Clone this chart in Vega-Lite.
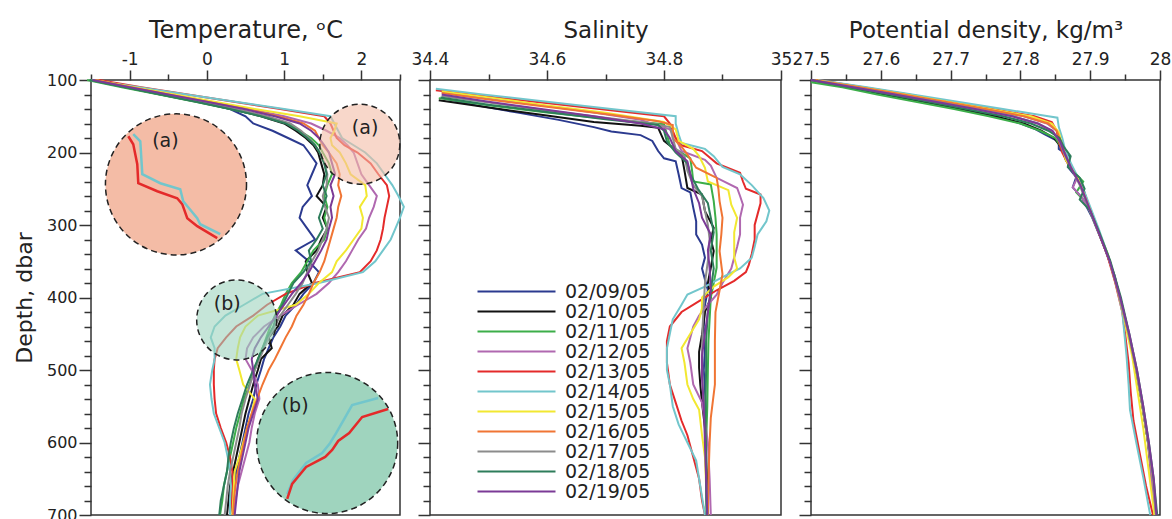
{
"$schema": "https://vega.github.io/schema/vega-lite/v6.json",
"background": "white",
"padding": {"left": 12, "top": 17, "right": 5, "bottom": 5},
"config": {"font": "DejaVu Sans", "view": {"stroke": "#333", "strokeWidth": 1.5},
 "axis": {"grid": false, "domain": false, "tickColor": "#333", "tickWidth": 1.5, "labelColor": "#222", "titleColor": "#222", "titleFontWeight": "normal", "labelFlush": false, "labelOverlap": false, "labelFont": "DejaVu Sans", "titleFont": "DejaVu Sans"}},
"spacing": 30,
"bounds": "flush",
"resolve": {"scale": {"x": "independent", "y": "independent", "color": "independent", "fill": "independent"}, "legend": {"color": "independent"}},
"datasets": {
"T": [
{"d":"02/09/05","z":100,"v":-1.45},{"d":"02/09/05","z":110,"v":-1.0},{"d":"02/09/05","z":120,"v":-0.55},{"d":"02/09/05","z":130,"v":-0.1},{"d":"02/09/05","z":140,"v":0.3},{"d":"02/09/05","z":150,"v":0.5},{"d":"02/09/05","z":160,"v":0.6},{"d":"02/09/05","z":170,"v":0.85},{"d":"02/09/05","z":180,"v":1.05},{"d":"02/09/05","z":190,"v":1.25},{"d":"02/09/05","z":200,"v":1.32},{"d":"02/09/05","z":215,"v":1.42},{"d":"02/09/05","z":230,"v":1.36},{"d":"02/09/05","z":245,"v":1.3},{"d":"02/09/05","z":260,"v":1.36},{"d":"02/09/05","z":275,"v":1.24},{"d":"02/09/05","z":290,"v":1.2},{"d":"02/09/05","z":305,"v":1.3},{"d":"02/09/05","z":320,"v":1.4},{"d":"02/09/05","z":335,"v":1.15},{"d":"02/09/05","z":350,"v":1.32},{"d":"02/09/05","z":365,"v":1.45},{"d":"02/09/05","z":380,"v":1.38},{"d":"02/09/05","z":395,"v":1.25},{"d":"02/09/05","z":410,"v":1.15},{"d":"02/09/05","z":425,"v":1.02},{"d":"02/09/05","z":440,"v":0.95},{"d":"02/09/05","z":455,"v":0.86},{"d":"02/09/05","z":470,"v":0.8},{"d":"02/09/05","z":485,"v":0.74},{"d":"02/09/05","z":500,"v":0.7},{"d":"02/09/05","z":520,"v":0.64},{"d":"02/09/05","z":540,"v":0.6},{"d":"02/09/05","z":560,"v":0.54},{"d":"02/09/05","z":580,"v":0.5},{"d":"02/09/05","z":600,"v":0.46},{"d":"02/09/05","z":620,"v":0.42},{"d":"02/09/05","z":640,"v":0.38},{"d":"02/09/05","z":660,"v":0.35},{"d":"02/09/05","z":680,"v":0.32},{"d":"02/09/05","z":700,"v":0.3},
{"d":"02/10/05","z":100,"v":-1.5},{"d":"02/10/05","z":110,"v":-1.05},{"d":"02/10/05","z":120,"v":-0.6},{"d":"02/10/05","z":130,"v":-0.12},{"d":"02/10/05","z":140,"v":0.32},{"d":"02/10/05","z":150,"v":0.7},{"d":"02/10/05","z":160,"v":1.0},{"d":"02/10/05","z":170,"v":1.15},{"d":"02/10/05","z":180,"v":1.28},{"d":"02/10/05","z":190,"v":1.38},{"d":"02/10/05","z":200,"v":1.44},{"d":"02/10/05","z":215,"v":1.48},{"d":"02/10/05","z":230,"v":1.52},{"d":"02/10/05","z":245,"v":1.5},{"d":"02/10/05","z":260,"v":1.42},{"d":"02/10/05","z":275,"v":1.55},{"d":"02/10/05","z":290,"v":1.5},{"d":"02/10/05","z":305,"v":1.56},{"d":"02/10/05","z":320,"v":1.48},{"d":"02/10/05","z":335,"v":1.42},{"d":"02/10/05","z":350,"v":1.28},{"d":"02/10/05","z":365,"v":1.3},{"d":"02/10/05","z":380,"v":1.36},{"d":"02/10/05","z":395,"v":1.2},{"d":"02/10/05","z":410,"v":1.12},{"d":"02/10/05","z":425,"v":0.98},{"d":"02/10/05","z":440,"v":0.92},{"d":"02/10/05","z":455,"v":0.8},{"d":"02/10/05","z":470,"v":0.84},{"d":"02/10/05","z":485,"v":0.7},{"d":"02/10/05","z":500,"v":0.66},{"d":"02/10/05","z":520,"v":0.6},{"d":"02/10/05","z":540,"v":0.55},{"d":"02/10/05","z":560,"v":0.5},{"d":"02/10/05","z":580,"v":0.46},{"d":"02/10/05","z":600,"v":0.42},{"d":"02/10/05","z":620,"v":0.38},{"d":"02/10/05","z":640,"v":0.34},{"d":"02/10/05","z":660,"v":0.3},{"d":"02/10/05","z":680,"v":0.28},{"d":"02/10/05","z":700,"v":0.26},
{"d":"02/11/05","z":100,"v":-1.55},{"d":"02/11/05","z":110,"v":-1.1},{"d":"02/11/05","z":120,"v":-0.62},{"d":"02/11/05","z":130,"v":-0.15},{"d":"02/11/05","z":140,"v":0.3},{"d":"02/11/05","z":150,"v":0.72},{"d":"02/11/05","z":160,"v":1.05},{"d":"02/11/05","z":170,"v":1.2},{"d":"02/11/05","z":180,"v":1.35},{"d":"02/11/05","z":190,"v":1.45},{"d":"02/11/05","z":200,"v":1.5},{"d":"02/11/05","z":215,"v":1.58},{"d":"02/11/05","z":230,"v":1.62},{"d":"02/11/05","z":245,"v":1.56},{"d":"02/11/05","z":260,"v":1.52},{"d":"02/11/05","z":275,"v":1.56},{"d":"02/11/05","z":290,"v":1.52},{"d":"02/11/05","z":305,"v":1.56},{"d":"02/11/05","z":320,"v":1.52},{"d":"02/11/05","z":335,"v":1.38},{"d":"02/11/05","z":350,"v":1.3},{"d":"02/11/05","z":365,"v":1.22},{"d":"02/11/05","z":380,"v":1.1},{"d":"02/11/05","z":395,"v":1.02},{"d":"02/11/05","z":410,"v":0.96},{"d":"02/11/05","z":425,"v":0.88},{"d":"02/11/05","z":440,"v":0.82},{"d":"02/11/05","z":455,"v":0.77},{"d":"02/11/05","z":470,"v":0.72},{"d":"02/11/05","z":485,"v":0.66},{"d":"02/11/05","z":500,"v":0.62},{"d":"02/11/05","z":520,"v":0.55},{"d":"02/11/05","z":540,"v":0.48},{"d":"02/11/05","z":560,"v":0.43},{"d":"02/11/05","z":580,"v":0.38},{"d":"02/11/05","z":600,"v":0.34},{"d":"02/11/05","z":620,"v":0.3},{"d":"02/11/05","z":640,"v":0.26},{"d":"02/11/05","z":660,"v":0.22},{"d":"02/11/05","z":680,"v":0.2},{"d":"02/11/05","z":700,"v":0.17},
{"d":"02/12/05","z":100,"v":-1.45},{"d":"02/12/05","z":110,"v":-0.95},{"d":"02/12/05","z":120,"v":-0.45},{"d":"02/12/05","z":130,"v":0.05},{"d":"02/12/05","z":140,"v":0.55},{"d":"02/12/05","z":150,"v":1.0},{"d":"02/12/05","z":160,"v":1.35},{"d":"02/12/05","z":170,"v":1.55},{"d":"02/12/05","z":180,"v":1.72},{"d":"02/12/05","z":190,"v":1.82},{"d":"02/12/05","z":200,"v":1.9},{"d":"02/12/05","z":215,"v":1.95},{"d":"02/12/05","z":230,"v":2.0},{"d":"02/12/05","z":245,"v":2.1},{"d":"02/12/05","z":260,"v":2.2},{"d":"02/12/05","z":275,"v":2.16},{"d":"02/12/05","z":290,"v":2.1},{"d":"02/12/05","z":305,"v":2.06},{"d":"02/12/05","z":320,"v":1.96},{"d":"02/12/05","z":335,"v":1.88},{"d":"02/12/05","z":350,"v":1.8},{"d":"02/12/05","z":365,"v":1.7},{"d":"02/12/05","z":380,"v":1.58},{"d":"02/12/05","z":395,"v":1.42},{"d":"02/12/05","z":410,"v":1.18},{"d":"02/12/05","z":425,"v":0.95},{"d":"02/12/05","z":440,"v":0.74},{"d":"02/12/05","z":455,"v":0.6},{"d":"02/12/05","z":470,"v":0.52},{"d":"02/12/05","z":485,"v":0.5},{"d":"02/12/05","z":500,"v":0.58},{"d":"02/12/05","z":520,"v":0.66},{"d":"02/12/05","z":540,"v":0.68},{"d":"02/12/05","z":560,"v":0.62},{"d":"02/12/05","z":580,"v":0.58},{"d":"02/12/05","z":600,"v":0.55},{"d":"02/12/05","z":620,"v":0.5},{"d":"02/12/05","z":640,"v":0.45},{"d":"02/12/05","z":660,"v":0.4},{"d":"02/12/05","z":680,"v":0.37},{"d":"02/12/05","z":700,"v":0.34},
{"d":"02/13/05","z":100,"v":-1.4},{"d":"02/13/05","z":110,"v":-0.85},{"d":"02/13/05","z":120,"v":-0.25},{"d":"02/13/05","z":130,"v":0.35},{"d":"02/13/05","z":140,"v":0.95},{"d":"02/13/05","z":150,"v":1.52},{"d":"02/13/05","z":160,"v":1.6},{"d":"02/13/05","z":170,"v":1.64},{"d":"02/13/05","z":180,"v":1.68},{"d":"02/13/05","z":190,"v":1.78},{"d":"02/13/05","z":200,"v":1.95},{"d":"02/13/05","z":215,"v":2.12},{"d":"02/13/05","z":230,"v":2.22},{"d":"02/13/05","z":245,"v":2.33},{"d":"02/13/05","z":260,"v":2.36},{"d":"02/13/05","z":275,"v":2.33},{"d":"02/13/05","z":290,"v":2.3},{"d":"02/13/05","z":305,"v":2.28},{"d":"02/13/05","z":320,"v":2.25},{"d":"02/13/05","z":335,"v":2.2},{"d":"02/13/05","z":350,"v":2.12},{"d":"02/13/05","z":365,"v":1.98},{"d":"02/13/05","z":380,"v":1.4},{"d":"02/13/05","z":395,"v":1.02},{"d":"02/13/05","z":410,"v":0.78},{"d":"02/13/05","z":425,"v":0.6},{"d":"02/13/05","z":440,"v":0.38},{"d":"02/13/05","z":455,"v":0.25},{"d":"02/13/05","z":470,"v":0.14},{"d":"02/13/05","z":485,"v":0.1},{"d":"02/13/05","z":500,"v":0.09},{"d":"02/13/05","z":520,"v":0.09},{"d":"02/13/05","z":540,"v":0.1},{"d":"02/13/05","z":560,"v":0.12},{"d":"02/13/05","z":580,"v":0.18},{"d":"02/13/05","z":600,"v":0.25},{"d":"02/13/05","z":620,"v":0.3},{"d":"02/13/05","z":640,"v":0.33},{"d":"02/13/05","z":660,"v":0.33},{"d":"02/13/05","z":680,"v":0.32},{"d":"02/13/05","z":700,"v":0.3},
{"d":"02/14/05","z":100,"v":-1.5},{"d":"02/14/05","z":110,"v":-0.88},{"d":"02/14/05","z":120,"v":-0.26},{"d":"02/14/05","z":130,"v":0.37},{"d":"02/14/05","z":140,"v":1.0},{"d":"02/14/05","z":150,"v":1.6},{"d":"02/14/05","z":160,"v":1.65},{"d":"02/14/05","z":170,"v":1.7},{"d":"02/14/05","z":180,"v":1.75},{"d":"02/14/05","z":190,"v":1.9},{"d":"02/14/05","z":200,"v":2.05},{"d":"02/14/05","z":215,"v":2.2},{"d":"02/14/05","z":230,"v":2.3},{"d":"02/14/05","z":245,"v":2.4},{"d":"02/14/05","z":260,"v":2.48},{"d":"02/14/05","z":275,"v":2.55},{"d":"02/14/05","z":290,"v":2.5},{"d":"02/14/05","z":305,"v":2.44},{"d":"02/14/05","z":320,"v":2.38},{"d":"02/14/05","z":335,"v":2.28},{"d":"02/14/05","z":350,"v":2.18},{"d":"02/14/05","z":365,"v":2.02},{"d":"02/14/05","z":380,"v":1.45},{"d":"02/14/05","z":395,"v":0.72},{"d":"02/14/05","z":410,"v":0.48},{"d":"02/14/05","z":425,"v":0.24},{"d":"02/14/05","z":440,"v":0.1},{"d":"02/14/05","z":455,"v":0.05},{"d":"02/14/05","z":470,"v":0.1},{"d":"02/14/05","z":485,"v":0.1},{"d":"02/14/05","z":500,"v":0.07},{"d":"02/14/05","z":520,"v":0.04},{"d":"02/14/05","z":540,"v":0.06},{"d":"02/14/05","z":560,"v":0.09},{"d":"02/14/05","z":580,"v":0.16},{"d":"02/14/05","z":600,"v":0.23},{"d":"02/14/05","z":620,"v":0.27},{"d":"02/14/05","z":640,"v":0.3},{"d":"02/14/05","z":660,"v":0.31},{"d":"02/14/05","z":680,"v":0.3},{"d":"02/14/05","z":700,"v":0.3},
{"d":"02/15/05","z":100,"v":-1.45},{"d":"02/15/05","z":110,"v":-0.95},{"d":"02/15/05","z":120,"v":-0.42},{"d":"02/15/05","z":130,"v":0.1},{"d":"02/15/05","z":140,"v":0.62},{"d":"02/15/05","z":150,"v":1.2},{"d":"02/15/05","z":160,"v":1.68},{"d":"02/15/05","z":170,"v":1.65},{"d":"02/15/05","z":180,"v":1.6},{"d":"02/15/05","z":190,"v":1.62},{"d":"02/15/05","z":200,"v":1.72},{"d":"02/15/05","z":215,"v":1.8},{"d":"02/15/05","z":230,"v":1.86},{"d":"02/15/05","z":245,"v":2.05},{"d":"02/15/05","z":260,"v":2.07},{"d":"02/15/05","z":275,"v":1.98},{"d":"02/15/05","z":290,"v":2.02},{"d":"02/15/05","z":305,"v":2.0},{"d":"02/15/05","z":320,"v":1.9},{"d":"02/15/05","z":335,"v":1.8},{"d":"02/15/05","z":350,"v":1.68},{"d":"02/15/05","z":365,"v":1.62},{"d":"02/15/05","z":380,"v":1.45},{"d":"02/15/05","z":395,"v":1.32},{"d":"02/15/05","z":410,"v":1.15},{"d":"02/15/05","z":425,"v":0.66},{"d":"02/15/05","z":440,"v":0.5},{"d":"02/15/05","z":455,"v":0.43},{"d":"02/15/05","z":470,"v":0.4},{"d":"02/15/05","z":485,"v":0.38},{"d":"02/15/05","z":500,"v":0.42},{"d":"02/15/05","z":520,"v":0.47},{"d":"02/15/05","z":540,"v":0.62},{"d":"02/15/05","z":560,"v":0.58},{"d":"02/15/05","z":580,"v":0.52},{"d":"02/15/05","z":600,"v":0.47},{"d":"02/15/05","z":620,"v":0.42},{"d":"02/15/05","z":640,"v":0.36},{"d":"02/15/05","z":660,"v":0.35},{"d":"02/15/05","z":680,"v":0.34},{"d":"02/15/05","z":700,"v":0.33},
{"d":"02/16/05","z":100,"v":-1.45},{"d":"02/16/05","z":110,"v":-0.98},{"d":"02/16/05","z":120,"v":-0.5},{"d":"02/16/05","z":130,"v":0.0},{"d":"02/16/05","z":140,"v":0.5},{"d":"02/16/05","z":150,"v":0.92},{"d":"02/16/05","z":160,"v":1.25},{"d":"02/16/05","z":170,"v":1.4},{"d":"02/16/05","z":180,"v":1.45},{"d":"02/16/05","z":190,"v":1.5},{"d":"02/16/05","z":200,"v":1.58},{"d":"02/16/05","z":215,"v":1.68},{"d":"02/16/05","z":230,"v":1.72},{"d":"02/16/05","z":245,"v":1.7},{"d":"02/16/05","z":260,"v":1.74},{"d":"02/16/05","z":275,"v":1.7},{"d":"02/16/05","z":290,"v":1.68},{"d":"02/16/05","z":305,"v":1.64},{"d":"02/16/05","z":320,"v":1.6},{"d":"02/16/05","z":335,"v":1.56},{"d":"02/16/05","z":350,"v":1.52},{"d":"02/16/05","z":365,"v":1.46},{"d":"02/16/05","z":380,"v":1.38},{"d":"02/16/05","z":395,"v":1.32},{"d":"02/16/05","z":410,"v":1.25},{"d":"02/16/05","z":425,"v":1.16},{"d":"02/16/05","z":440,"v":1.1},{"d":"02/16/05","z":455,"v":1.02},{"d":"02/16/05","z":470,"v":0.95},{"d":"02/16/05","z":485,"v":0.88},{"d":"02/16/05","z":500,"v":0.8},{"d":"02/16/05","z":520,"v":0.72},{"d":"02/16/05","z":540,"v":0.65},{"d":"02/16/05","z":560,"v":0.58},{"d":"02/16/05","z":580,"v":0.52},{"d":"02/16/05","z":600,"v":0.48},{"d":"02/16/05","z":620,"v":0.44},{"d":"02/16/05","z":640,"v":0.4},{"d":"02/16/05","z":660,"v":0.37},{"d":"02/16/05","z":680,"v":0.35},{"d":"02/16/05","z":700,"v":0.34},
{"d":"02/17/05","z":100,"v":-1.5},{"d":"02/17/05","z":110,"v":-1.02},{"d":"02/17/05","z":120,"v":-0.55},{"d":"02/17/05","z":130,"v":-0.08},{"d":"02/17/05","z":140,"v":0.38},{"d":"02/17/05","z":150,"v":0.78},{"d":"02/17/05","z":160,"v":1.08},{"d":"02/17/05","z":170,"v":1.22},{"d":"02/17/05","z":180,"v":1.32},{"d":"02/17/05","z":190,"v":1.4},{"d":"02/17/05","z":200,"v":1.46},{"d":"02/17/05","z":215,"v":1.52},{"d":"02/17/05","z":230,"v":1.56},{"d":"02/17/05","z":245,"v":1.55},{"d":"02/17/05","z":260,"v":1.5},{"d":"02/17/05","z":275,"v":1.53},{"d":"02/17/05","z":290,"v":1.58},{"d":"02/17/05","z":305,"v":1.55},{"d":"02/17/05","z":320,"v":1.5},{"d":"02/17/05","z":335,"v":1.44},{"d":"02/17/05","z":350,"v":1.36},{"d":"02/17/05","z":365,"v":1.3},{"d":"02/17/05","z":380,"v":1.24},{"d":"02/17/05","z":395,"v":1.15},{"d":"02/17/05","z":410,"v":1.05},{"d":"02/17/05","z":425,"v":0.95},{"d":"02/17/05","z":440,"v":0.88},{"d":"02/17/05","z":455,"v":0.8},{"d":"02/17/05","z":470,"v":0.74},{"d":"02/17/05","z":485,"v":0.68},{"d":"02/17/05","z":500,"v":0.62},{"d":"02/17/05","z":520,"v":0.56},{"d":"02/17/05","z":540,"v":0.5},{"d":"02/17/05","z":560,"v":0.45},{"d":"02/17/05","z":580,"v":0.42},{"d":"02/17/05","z":600,"v":0.38},{"d":"02/17/05","z":620,"v":0.34},{"d":"02/17/05","z":640,"v":0.3},{"d":"02/17/05","z":660,"v":0.27},{"d":"02/17/05","z":680,"v":0.25},{"d":"02/17/05","z":700,"v":0.23},
{"d":"02/18/05","z":100,"v":-1.52},{"d":"02/18/05","z":110,"v":-1.06},{"d":"02/18/05","z":120,"v":-0.6},{"d":"02/18/05","z":130,"v":-0.14},{"d":"02/18/05","z":140,"v":0.3},{"d":"02/18/05","z":150,"v":0.7},{"d":"02/18/05","z":160,"v":1.02},{"d":"02/18/05","z":170,"v":1.18},{"d":"02/18/05","z":180,"v":1.3},{"d":"02/18/05","z":190,"v":1.4},{"d":"02/18/05","z":200,"v":1.46},{"d":"02/18/05","z":215,"v":1.52},{"d":"02/18/05","z":230,"v":1.55},{"d":"02/18/05","z":245,"v":1.5},{"d":"02/18/05","z":260,"v":1.55},{"d":"02/18/05","z":275,"v":1.5},{"d":"02/18/05","z":290,"v":1.45},{"d":"02/18/05","z":305,"v":1.5},{"d":"02/18/05","z":320,"v":1.42},{"d":"02/18/05","z":335,"v":1.32},{"d":"02/18/05","z":350,"v":1.35},{"d":"02/18/05","z":365,"v":1.25},{"d":"02/18/05","z":380,"v":1.12},{"d":"02/18/05","z":395,"v":1.05},{"d":"02/18/05","z":410,"v":0.98},{"d":"02/18/05","z":425,"v":0.9},{"d":"02/18/05","z":440,"v":0.86},{"d":"02/18/05","z":455,"v":0.78},{"d":"02/18/05","z":470,"v":0.72},{"d":"02/18/05","z":485,"v":0.66},{"d":"02/18/05","z":500,"v":0.6},{"d":"02/18/05","z":520,"v":0.52},{"d":"02/18/05","z":540,"v":0.46},{"d":"02/18/05","z":560,"v":0.4},{"d":"02/18/05","z":580,"v":0.35},{"d":"02/18/05","z":600,"v":0.31},{"d":"02/18/05","z":620,"v":0.28},{"d":"02/18/05","z":640,"v":0.26},{"d":"02/18/05","z":660,"v":0.22},{"d":"02/18/05","z":680,"v":0.18},{"d":"02/18/05","z":700,"v":0.16},
{"d":"02/19/05","z":100,"v":-1.48},{"d":"02/19/05","z":110,"v":-1.0},{"d":"02/19/05","z":120,"v":-0.5},{"d":"02/19/05","z":130,"v":0.0},{"d":"02/19/05","z":140,"v":0.48},{"d":"02/19/05","z":150,"v":0.88},{"d":"02/19/05","z":160,"v":1.2},{"d":"02/19/05","z":170,"v":1.35},{"d":"02/19/05","z":180,"v":1.45},{"d":"02/19/05","z":190,"v":1.52},{"d":"02/19/05","z":200,"v":1.58},{"d":"02/19/05","z":215,"v":1.62},{"d":"02/19/05","z":230,"v":1.66},{"d":"02/19/05","z":245,"v":1.6},{"d":"02/19/05","z":260,"v":1.64},{"d":"02/19/05","z":275,"v":1.6},{"d":"02/19/05","z":290,"v":1.62},{"d":"02/19/05","z":305,"v":1.58},{"d":"02/19/05","z":320,"v":1.55},{"d":"02/19/05","z":335,"v":1.48},{"d":"02/19/05","z":350,"v":1.4},{"d":"02/19/05","z":365,"v":1.32},{"d":"02/19/05","z":380,"v":1.22},{"d":"02/19/05","z":395,"v":1.1},{"d":"02/19/05","z":410,"v":1.0},{"d":"02/19/05","z":425,"v":0.9},{"d":"02/19/05","z":440,"v":0.8},{"d":"02/19/05","z":455,"v":0.7},{"d":"02/19/05","z":470,"v":0.62},{"d":"02/19/05","z":485,"v":0.58},{"d":"02/19/05","z":500,"v":0.6},{"d":"02/19/05","z":520,"v":0.62},{"d":"02/19/05","z":540,"v":0.66},{"d":"02/19/05","z":560,"v":0.6},{"d":"02/19/05","z":580,"v":0.54},{"d":"02/19/05","z":600,"v":0.5},{"d":"02/19/05","z":620,"v":0.46},{"d":"02/19/05","z":640,"v":0.42},{"d":"02/19/05","z":660,"v":0.4},{"d":"02/19/05","z":680,"v":0.38},{"d":"02/19/05","z":700,"v":0.36}
],
"S": [
{"d":"02/09/05","z":125,"v":34.42},{"d":"02/09/05","z":135,"v":34.48},{"d":"02/09/05","z":145,"v":34.55},{"d":"02/09/05","z":155,"v":34.62},{"d":"02/09/05","z":165,"v":34.68},{"d":"02/09/05","z":171,"v":34.71},{"d":"02/09/05","z":176,"v":34.76},{"d":"02/09/05","z":184,"v":34.78},{"d":"02/09/05","z":198,"v":34.79},{"d":"02/09/05","z":208,"v":34.8},{"d":"02/09/05","z":212,"v":34.82},{"d":"02/09/05","z":230,"v":34.825},{"d":"02/09/05","z":249,"v":34.83},{"d":"02/09/05","z":255,"v":34.845},{"d":"02/09/05","z":276,"v":34.85},{"d":"02/09/05","z":295,"v":34.855},{"d":"02/09/05","z":313,"v":34.855},{"d":"02/09/05","z":327,"v":34.865},{"d":"02/09/05","z":345,"v":34.87},{"d":"02/09/05","z":360,"v":34.865},{"d":"02/09/05","z":375,"v":34.87},{"d":"02/09/05","z":390,"v":34.875},{"d":"02/09/05","z":410,"v":34.87},{"d":"02/09/05","z":440,"v":34.868},{"d":"02/09/05","z":470,"v":34.87},{"d":"02/09/05","z":500,"v":34.868},{"d":"02/09/05","z":530,"v":34.87},{"d":"02/09/05","z":560,"v":34.872},{"d":"02/09/05","z":600,"v":34.87},{"d":"02/09/05","z":640,"v":34.872},{"d":"02/09/05","z":680,"v":34.873},{"d":"02/09/05","z":700,"v":34.874},
{"d":"02/10/05","z":128,"v":34.415},{"d":"02/10/05","z":138,"v":34.5},{"d":"02/10/05","z":148,"v":34.59},{"d":"02/10/05","z":158,"v":34.68},{"d":"02/10/05","z":163,"v":34.76},{"d":"02/10/05","z":166,"v":34.79},{"d":"02/10/05","z":184,"v":34.8},{"d":"02/10/05","z":203,"v":34.83},{"d":"02/10/05","z":225,"v":34.835},{"d":"02/10/05","z":249,"v":34.84},{"d":"02/10/05","z":258,"v":34.865},{"d":"02/10/05","z":281,"v":34.87},{"d":"02/10/05","z":304,"v":34.885},{"d":"02/10/05","z":320,"v":34.88},{"d":"02/10/05","z":336,"v":34.885},{"d":"02/10/05","z":359,"v":34.88},{"d":"02/10/05","z":380,"v":34.875},{"d":"02/10/05","z":400,"v":34.88},{"d":"02/10/05","z":420,"v":34.87},{"d":"02/10/05","z":451,"v":34.865},{"d":"02/10/05","z":475,"v":34.86},{"d":"02/10/05","z":497,"v":34.86},{"d":"02/10/05","z":520,"v":34.862},{"d":"02/10/05","z":545,"v":34.865},{"d":"02/10/05","z":580,"v":34.87},{"d":"02/10/05","z":620,"v":34.872},{"d":"02/10/05","z":660,"v":34.874},{"d":"02/10/05","z":700,"v":34.875},
{"d":"02/11/05","z":125,"v":34.415},{"d":"02/11/05","z":135,"v":34.5},{"d":"02/11/05","z":145,"v":34.6},{"d":"02/11/05","z":155,"v":34.72},{"d":"02/11/05","z":161,"v":34.8},{"d":"02/11/05","z":175,"v":34.805},{"d":"02/11/05","z":190,"v":34.81},{"d":"02/11/05","z":208,"v":34.845},{"d":"02/11/05","z":225,"v":34.848},{"d":"02/11/05","z":240,"v":34.85},{"d":"02/11/05","z":244,"v":34.88},{"d":"02/11/05","z":267,"v":34.885},{"d":"02/11/05","z":290,"v":34.888},{"d":"02/11/05","z":313,"v":34.89},{"d":"02/11/05","z":340,"v":34.89},{"d":"02/11/05","z":359,"v":34.89},{"d":"02/11/05","z":380,"v":34.885},{"d":"02/11/05","z":400,"v":34.88},{"d":"02/11/05","z":430,"v":34.878},{"d":"02/11/05","z":460,"v":34.876},{"d":"02/11/05","z":500,"v":34.875},{"d":"02/11/05","z":550,"v":34.874},{"d":"02/11/05","z":600,"v":34.872},{"d":"02/11/05","z":650,"v":34.872},{"d":"02/11/05","z":700,"v":34.873},
{"d":"02/12/05","z":116,"v":34.42},{"d":"02/12/05","z":125,"v":34.5},{"d":"02/12/05","z":135,"v":34.59},{"d":"02/12/05","z":145,"v":34.68},{"d":"02/12/05","z":155,"v":34.76},{"d":"02/12/05","z":168,"v":34.81},{"d":"02/12/05","z":180,"v":34.82},{"d":"02/12/05","z":198,"v":34.83},{"d":"02/12/05","z":210,"v":34.87},{"d":"02/12/05","z":218,"v":34.88},{"d":"02/12/05","z":235,"v":34.89},{"d":"02/12/05","z":249,"v":34.925},{"d":"02/12/05","z":260,"v":34.93},{"d":"02/12/05","z":272,"v":34.935},{"d":"02/12/05","z":290,"v":34.93},{"d":"02/12/05","z":313,"v":34.93},{"d":"02/12/05","z":330,"v":34.925},{"d":"02/12/05","z":345,"v":34.92},{"d":"02/12/05","z":360,"v":34.915},{"d":"02/12/05","z":380,"v":34.9},{"d":"02/12/05","z":396,"v":34.89},{"d":"02/12/05","z":410,"v":34.875},{"d":"02/12/05","z":425,"v":34.86},{"d":"02/12/05","z":440,"v":34.85},{"d":"02/12/05","z":455,"v":34.845},{"d":"02/12/05","z":470,"v":34.84},{"d":"02/12/05","z":490,"v":34.845},{"d":"02/12/05","z":520,"v":34.85},{"d":"02/12/05","z":545,"v":34.865},{"d":"02/12/05","z":570,"v":34.87},{"d":"02/12/05","z":600,"v":34.875},{"d":"02/12/05","z":650,"v":34.878},{"d":"02/12/05","z":700,"v":34.88},
{"d":"02/13/05","z":114,"v":34.41},{"d":"02/13/05","z":120,"v":34.47},{"d":"02/13/05","z":130,"v":34.58},{"d":"02/13/05","z":140,"v":34.69},{"d":"02/13/05","z":150,"v":34.8},{"d":"02/13/05","z":160,"v":34.81},{"d":"02/13/05","z":170,"v":34.815},{"d":"02/13/05","z":180,"v":34.82},{"d":"02/13/05","z":190,"v":34.83},{"d":"02/13/05","z":198,"v":34.865},{"d":"02/13/05","z":215,"v":34.89},{"d":"02/13/05","z":228,"v":34.93},{"d":"02/13/05","z":240,"v":34.935},{"d":"02/13/05","z":250,"v":34.94},{"d":"02/13/05","z":258,"v":34.965},{"d":"02/13/05","z":270,"v":34.965},{"d":"02/13/05","z":285,"v":34.96},{"d":"02/13/05","z":300,"v":34.955},{"d":"02/13/05","z":320,"v":34.955},{"d":"02/13/05","z":340,"v":34.95},{"d":"02/13/05","z":355,"v":34.945},{"d":"02/13/05","z":365,"v":34.94},{"d":"02/13/05","z":377,"v":34.92},{"d":"02/13/05","z":390,"v":34.89},{"d":"02/13/05","z":405,"v":34.86},{"d":"02/13/05","z":420,"v":34.83},{"d":"02/13/05","z":440,"v":34.81},{"d":"02/13/05","z":460,"v":34.805},{"d":"02/13/05","z":490,"v":34.805},{"d":"02/13/05","z":520,"v":34.81},{"d":"02/13/05","z":545,"v":34.82},{"d":"02/13/05","z":570,"v":34.83},{"d":"02/13/05","z":590,"v":34.84},{"d":"02/13/05","z":620,"v":34.85},{"d":"02/13/05","z":650,"v":34.86},{"d":"02/13/05","z":680,"v":34.865},{"d":"02/13/05","z":700,"v":34.87},
{"d":"02/14/05","z":112,"v":34.41},{"d":"02/14/05","z":120,"v":34.49},{"d":"02/14/05","z":130,"v":34.6},{"d":"02/14/05","z":140,"v":34.71},{"d":"02/14/05","z":150,"v":34.82},{"d":"02/14/05","z":160,"v":34.82},{"d":"02/14/05","z":175,"v":34.825},{"d":"02/14/05","z":187,"v":34.83},{"d":"02/14/05","z":195,"v":34.87},{"d":"02/14/05","z":205,"v":34.885},{"d":"02/14/05","z":220,"v":34.9},{"d":"02/14/05","z":230,"v":34.93},{"d":"02/14/05","z":245,"v":34.95},{"d":"02/14/05","z":263,"v":34.97},{"d":"02/14/05","z":280,"v":34.98},{"d":"02/14/05","z":295,"v":34.975},{"d":"02/14/05","z":313,"v":34.96},{"d":"02/14/05","z":330,"v":34.955},{"d":"02/14/05","z":345,"v":34.95},{"d":"02/14/05","z":360,"v":34.93},{"d":"02/14/05","z":372,"v":34.9},{"d":"02/14/05","z":385,"v":34.87},{"d":"02/14/05","z":396,"v":34.84},{"d":"02/14/05","z":410,"v":34.83},{"d":"02/14/05","z":430,"v":34.815},{"d":"02/14/05","z":450,"v":34.81},{"d":"02/14/05","z":470,"v":34.805},{"d":"02/14/05","z":500,"v":34.805},{"d":"02/14/05","z":520,"v":34.81},{"d":"02/14/05","z":550,"v":34.815},{"d":"02/14/05","z":575,"v":34.825},{"d":"02/14/05","z":600,"v":34.84},{"d":"02/14/05","z":625,"v":34.855},{"d":"02/14/05","z":650,"v":34.86},{"d":"02/14/05","z":675,"v":34.865},{"d":"02/14/05","z":700,"v":34.87},
{"d":"02/15/05","z":116,"v":34.42},{"d":"02/15/05","z":125,"v":34.51},{"d":"02/15/05","z":135,"v":34.6},{"d":"02/15/05","z":145,"v":34.7},{"d":"02/15/05","z":158,"v":34.8},{"d":"02/15/05","z":163,"v":34.81},{"d":"02/15/05","z":168,"v":34.82},{"d":"02/15/05","z":184,"v":34.825},{"d":"02/15/05","z":195,"v":34.85},{"d":"02/15/05","z":205,"v":34.86},{"d":"02/15/05","z":221,"v":34.87},{"d":"02/15/05","z":240,"v":34.875},{"d":"02/15/05","z":252,"v":34.91},{"d":"02/15/05","z":272,"v":34.915},{"d":"02/15/05","z":290,"v":34.925},{"d":"02/15/05","z":310,"v":34.92},{"d":"02/15/05","z":327,"v":34.92},{"d":"02/15/05","z":345,"v":34.92},{"d":"02/15/05","z":360,"v":34.925},{"d":"02/15/05","z":372,"v":34.91},{"d":"02/15/05","z":385,"v":34.885},{"d":"02/15/05","z":400,"v":34.865},{"d":"02/15/05","z":415,"v":34.865},{"d":"02/15/05","z":430,"v":34.86},{"d":"02/15/05","z":450,"v":34.845},{"d":"02/15/05","z":470,"v":34.83},{"d":"02/15/05","z":490,"v":34.835},{"d":"02/15/05","z":520,"v":34.84},{"d":"02/15/05","z":540,"v":34.85},{"d":"02/15/05","z":555,"v":34.86},{"d":"02/15/05","z":590,"v":34.865},{"d":"02/15/05","z":620,"v":34.87},{"d":"02/15/05","z":660,"v":34.872},{"d":"02/15/05","z":700,"v":34.875},
{"d":"02/16/05","z":118,"v":34.42},{"d":"02/16/05","z":128,"v":34.51},{"d":"02/16/05","z":138,"v":34.61},{"d":"02/16/05","z":148,"v":34.71},{"d":"02/16/05","z":157,"v":34.79},{"d":"02/16/05","z":162,"v":34.815},{"d":"02/16/05","z":180,"v":34.815},{"d":"02/16/05","z":192,"v":34.83},{"d":"02/16/05","z":203,"v":34.84},{"d":"02/16/05","z":221,"v":34.855},{"d":"02/16/05","z":235,"v":34.89},{"d":"02/16/05","z":250,"v":34.893},{"d":"02/16/05","z":267,"v":34.895},{"d":"02/16/05","z":290,"v":34.9},{"d":"02/16/05","z":313,"v":34.898},{"d":"02/16/05","z":336,"v":34.895},{"d":"02/16/05","z":368,"v":34.9},{"d":"02/16/05","z":390,"v":34.895},{"d":"02/16/05","z":420,"v":34.888},{"d":"02/16/05","z":460,"v":34.887},{"d":"02/16/05","z":520,"v":34.887},{"d":"02/16/05","z":566,"v":34.88},{"d":"02/16/05","z":600,"v":34.878},{"d":"02/16/05","z":650,"v":34.876},{"d":"02/16/05","z":700,"v":34.875},
{"d":"02/17/05","z":122,"v":34.42},{"d":"02/17/05","z":132,"v":34.51},{"d":"02/17/05","z":142,"v":34.6},{"d":"02/17/05","z":152,"v":34.7},{"d":"02/17/05","z":160,"v":34.78},{"d":"02/17/05","z":165,"v":34.81},{"d":"02/17/05","z":180,"v":34.815},{"d":"02/17/05","z":195,"v":34.82},{"d":"02/17/05","z":205,"v":34.835},{"d":"02/17/05","z":225,"v":34.84},{"d":"02/17/05","z":245,"v":34.85},{"d":"02/17/05","z":260,"v":34.865},{"d":"02/17/05","z":280,"v":34.87},{"d":"02/17/05","z":300,"v":34.875},{"d":"02/17/05","z":320,"v":34.878},{"d":"02/17/05","z":350,"v":34.875},{"d":"02/17/05","z":380,"v":34.87},{"d":"02/17/05","z":410,"v":34.868},{"d":"02/17/05","z":440,"v":34.866},{"d":"02/17/05","z":480,"v":34.865},{"d":"02/17/05","z":520,"v":34.866},{"d":"02/17/05","z":560,"v":34.87},{"d":"02/17/05","z":600,"v":34.871},{"d":"02/17/05","z":650,"v":34.872},{"d":"02/17/05","z":700,"v":34.874},
{"d":"02/18/05","z":124,"v":34.418},{"d":"02/18/05","z":134,"v":34.5},{"d":"02/18/05","z":144,"v":34.6},{"d":"02/18/05","z":154,"v":34.7},{"d":"02/18/05","z":162,"v":34.79},{"d":"02/18/05","z":170,"v":34.8},{"d":"02/18/05","z":185,"v":34.805},{"d":"02/18/05","z":200,"v":34.82},{"d":"02/18/05","z":215,"v":34.84},{"d":"02/18/05","z":230,"v":34.845},{"d":"02/18/05","z":250,"v":34.858},{"d":"02/18/05","z":270,"v":34.875},{"d":"02/18/05","z":290,"v":34.88},{"d":"02/18/05","z":310,"v":34.885},{"d":"02/18/05","z":335,"v":34.88},{"d":"02/18/05","z":360,"v":34.885},{"d":"02/18/05","z":390,"v":34.88},{"d":"02/18/05","z":420,"v":34.875},{"d":"02/18/05","z":460,"v":34.872},{"d":"02/18/05","z":500,"v":34.872},{"d":"02/18/05","z":540,"v":34.871},{"d":"02/18/05","z":580,"v":34.871},{"d":"02/18/05","z":620,"v":34.872},{"d":"02/18/05","z":660,"v":34.872},{"d":"02/18/05","z":700,"v":34.873},
{"d":"02/19/05","z":120,"v":34.42},{"d":"02/19/05","z":130,"v":34.5},{"d":"02/19/05","z":140,"v":34.59},{"d":"02/19/05","z":150,"v":34.68},{"d":"02/19/05","z":160,"v":34.76},{"d":"02/19/05","z":168,"v":34.8},{"d":"02/19/05","z":180,"v":34.81},{"d":"02/19/05","z":198,"v":34.82},{"d":"02/19/05","z":212,"v":34.84},{"d":"02/19/05","z":230,"v":34.845},{"d":"02/19/05","z":250,"v":34.85},{"d":"02/19/05","z":270,"v":34.86},{"d":"02/19/05","z":290,"v":34.865},{"d":"02/19/05","z":313,"v":34.88},{"d":"02/19/05","z":335,"v":34.875},{"d":"02/19/05","z":360,"v":34.878},{"d":"02/19/05","z":390,"v":34.88},{"d":"02/19/05","z":420,"v":34.875},{"d":"02/19/05","z":450,"v":34.87},{"d":"02/19/05","z":480,"v":34.865},{"d":"02/19/05","z":510,"v":34.865},{"d":"02/19/05","z":550,"v":34.868},{"d":"02/19/05","z":600,"v":34.87},{"d":"02/19/05","z":650,"v":34.872},{"d":"02/19/05","z":700,"v":34.874}
],
"P": [
{"d":"02/09/05","z":100,"v":27.5},{"d":"02/09/05","z":110,"v":27.555},{"d":"02/09/05","z":120,"v":27.61},{"d":"02/09/05","z":130,"v":27.665},{"d":"02/09/05","z":140,"v":27.715},{"d":"02/09/05","z":150,"v":27.765},{"d":"02/09/05","z":160,"v":27.8},{"d":"02/09/05","z":168,"v":27.822},{"d":"02/09/05","z":175,"v":27.835},{"d":"02/09/05","z":185,"v":27.855},{"d":"02/09/05","z":195,"v":27.855},{"d":"02/09/05","z":205,"v":27.87},{"d":"02/09/05","z":220,"v":27.868},{"d":"02/09/05","z":234,"v":27.88},{"d":"02/09/05","z":248,"v":27.875},{"d":"02/09/05","z":262,"v":27.888},{"d":"02/09/05","z":290,"v":27.903},{"d":"02/09/05","z":330,"v":27.92},{"d":"02/09/05","z":370,"v":27.935},{"d":"02/09/05","z":418,"v":27.947},{"d":"02/09/05","z":464,"v":27.958},{"d":"02/09/05","z":533,"v":27.972},{"d":"02/09/05","z":593,"v":27.982},{"d":"02/09/05","z":671,"v":27.99},{"d":"02/09/05","z":700,"v":27.993},
{"d":"02/10/05","z":100,"v":27.5},{"d":"02/10/05","z":110,"v":27.553},{"d":"02/10/05","z":120,"v":27.605},{"d":"02/10/05","z":130,"v":27.66},{"d":"02/10/05","z":140,"v":27.712},{"d":"02/10/05","z":150,"v":27.762},{"d":"02/10/05","z":160,"v":27.805},{"d":"02/10/05","z":170,"v":27.83},{"d":"02/10/05","z":180,"v":27.848},{"d":"02/10/05","z":195,"v":27.86},{"d":"02/10/05","z":210,"v":27.865},{"d":"02/10/05","z":230,"v":27.878},{"d":"02/10/05","z":250,"v":27.89},{"d":"02/10/05","z":280,"v":27.9},{"d":"02/10/05","z":310,"v":27.912},{"d":"02/10/05","z":350,"v":27.928},{"d":"02/10/05","z":400,"v":27.943},{"d":"02/10/05","z":450,"v":27.955},{"d":"02/10/05","z":500,"v":27.966},{"d":"02/10/05","z":550,"v":27.975},{"d":"02/10/05","z":600,"v":27.983},{"d":"02/10/05","z":650,"v":27.989},{"d":"02/10/05","z":700,"v":27.994},
{"d":"02/11/05","z":103,"v":27.5},{"d":"02/11/05","z":110,"v":27.545},{"d":"02/11/05","z":120,"v":27.595},{"d":"02/11/05","z":130,"v":27.65},{"d":"02/11/05","z":140,"v":27.705},{"d":"02/11/05","z":150,"v":27.755},{"d":"02/11/05","z":160,"v":27.8},{"d":"02/11/05","z":170,"v":27.828},{"d":"02/11/05","z":180,"v":27.85},{"d":"02/11/05","z":195,"v":27.86},{"d":"02/11/05","z":210,"v":27.868},{"d":"02/11/05","z":225,"v":27.875},{"d":"02/11/05","z":240,"v":27.89},{"d":"02/11/05","z":255,"v":27.88},{"d":"02/11/05","z":270,"v":27.895},{"d":"02/11/05","z":300,"v":27.908},{"d":"02/11/05","z":340,"v":27.925},{"d":"02/11/05","z":390,"v":27.94},{"d":"02/11/05","z":440,"v":27.953},{"d":"02/11/05","z":490,"v":27.963},{"d":"02/11/05","z":540,"v":27.973},{"d":"02/11/05","z":600,"v":27.983},{"d":"02/11/05","z":650,"v":27.99},{"d":"02/11/05","z":700,"v":27.995},
{"d":"02/12/05","z":100,"v":27.5},{"d":"02/12/05","z":110,"v":27.565},{"d":"02/12/05","z":120,"v":27.63},{"d":"02/12/05","z":130,"v":27.69},{"d":"02/12/05","z":140,"v":27.75},{"d":"02/12/05","z":150,"v":27.805},{"d":"02/12/05","z":160,"v":27.838},{"d":"02/12/05","z":170,"v":27.852},{"d":"02/12/05","z":185,"v":27.858},{"d":"02/12/05","z":200,"v":27.862},{"d":"02/12/05","z":218,"v":27.87},{"d":"02/12/05","z":234,"v":27.882},{"d":"02/12/05","z":248,"v":27.875},{"d":"02/12/05","z":262,"v":27.888},{"d":"02/12/05","z":290,"v":27.905},{"d":"02/12/05","z":330,"v":27.92},{"d":"02/12/05","z":370,"v":27.935},{"d":"02/12/05","z":418,"v":27.947},{"d":"02/12/05","z":464,"v":27.958},{"d":"02/12/05","z":533,"v":27.972},{"d":"02/12/05","z":593,"v":27.982},{"d":"02/12/05","z":671,"v":27.99},{"d":"02/12/05","z":700,"v":27.993},
{"d":"02/13/05","z":100,"v":27.51},{"d":"02/13/05","z":110,"v":27.575},{"d":"02/13/05","z":120,"v":27.64},{"d":"02/13/05","z":130,"v":27.7},{"d":"02/13/05","z":140,"v":27.76},{"d":"02/13/05","z":150,"v":27.82},{"d":"02/13/05","z":158,"v":27.845},{"d":"02/13/05","z":170,"v":27.852},{"d":"02/13/05","z":185,"v":27.855},{"d":"02/13/05","z":200,"v":27.86},{"d":"02/13/05","z":215,"v":27.868},{"d":"02/13/05","z":240,"v":27.885},{"d":"02/13/05","z":270,"v":27.897},{"d":"02/13/05","z":300,"v":27.908},{"d":"02/13/05","z":340,"v":27.924},{"d":"02/13/05","z":380,"v":27.936},{"d":"02/13/05","z":420,"v":27.946},{"d":"02/13/05","z":450,"v":27.95},{"d":"02/13/05","z":490,"v":27.955},{"d":"02/13/05","z":530,"v":27.958},{"d":"02/13/05","z":570,"v":27.962},{"d":"02/13/05","z":620,"v":27.972},{"d":"02/13/05","z":660,"v":27.98},{"d":"02/13/05","z":700,"v":27.99},
{"d":"02/14/05","z":100,"v":27.51},{"d":"02/14/05","z":110,"v":27.58},{"d":"02/14/05","z":120,"v":27.645},{"d":"02/14/05","z":130,"v":27.71},{"d":"02/14/05","z":140,"v":27.775},{"d":"02/14/05","z":150,"v":27.84},{"d":"02/14/05","z":152,"v":27.853},{"d":"02/14/05","z":165,"v":27.855},{"d":"02/14/05","z":180,"v":27.86},{"d":"02/14/05","z":200,"v":27.865},{"d":"02/14/05","z":220,"v":27.875},{"d":"02/14/05","z":245,"v":27.888},{"d":"02/14/05","z":275,"v":27.9},{"d":"02/14/05","z":305,"v":27.912},{"d":"02/14/05","z":340,"v":27.925},{"d":"02/14/05","z":380,"v":27.937},{"d":"02/14/05","z":420,"v":27.946},{"d":"02/14/05","z":440,"v":27.948},{"d":"02/14/05","z":480,"v":27.952},{"d":"02/14/05","z":520,"v":27.955},{"d":"02/14/05","z":555,"v":27.957},{"d":"02/14/05","z":600,"v":27.966},{"d":"02/14/05","z":648,"v":27.976},{"d":"02/14/05","z":700,"v":27.986},
{"d":"02/15/05","z":100,"v":27.505},{"d":"02/15/05","z":110,"v":27.57},{"d":"02/15/05","z":120,"v":27.635},{"d":"02/15/05","z":130,"v":27.695},{"d":"02/15/05","z":140,"v":27.755},{"d":"02/15/05","z":150,"v":27.815},{"d":"02/15/05","z":160,"v":27.845},{"d":"02/15/05","z":172,"v":27.855},{"d":"02/15/05","z":190,"v":27.86},{"d":"02/15/05","z":210,"v":27.865},{"d":"02/15/05","z":235,"v":27.882},{"d":"02/15/05","z":260,"v":27.892},{"d":"02/15/05","z":300,"v":27.908},{"d":"02/15/05","z":340,"v":27.925},{"d":"02/15/05","z":380,"v":27.937},{"d":"02/15/05","z":420,"v":27.947},{"d":"02/15/05","z":445,"v":27.952},{"d":"02/15/05","z":480,"v":27.96},{"d":"02/15/05","z":530,"v":27.968},{"d":"02/15/05","z":580,"v":27.976},{"d":"02/15/05","z":640,"v":27.984},{"d":"02/15/05","z":700,"v":27.992},
{"d":"02/16/05","z":100,"v":27.505},{"d":"02/16/05","z":110,"v":27.57},{"d":"02/16/05","z":120,"v":27.632},{"d":"02/16/05","z":130,"v":27.692},{"d":"02/16/05","z":140,"v":27.75},{"d":"02/16/05","z":150,"v":27.805},{"d":"02/16/05","z":160,"v":27.84},{"d":"02/16/05","z":170,"v":27.852},{"d":"02/16/05","z":185,"v":27.858},{"d":"02/16/05","z":200,"v":27.863},{"d":"02/16/05","z":220,"v":27.872},{"d":"02/16/05","z":245,"v":27.886},{"d":"02/16/05","z":275,"v":27.898},{"d":"02/16/05","z":310,"v":27.912},{"d":"02/16/05","z":350,"v":27.928},{"d":"02/16/05","z":400,"v":27.942},{"d":"02/16/05","z":450,"v":27.955},{"d":"02/16/05","z":500,"v":27.966},{"d":"02/16/05","z":550,"v":27.975},{"d":"02/16/05","z":600,"v":27.983},{"d":"02/16/05","z":650,"v":27.99},{"d":"02/16/05","z":700,"v":27.995},
{"d":"02/17/05","z":100,"v":27.5},{"d":"02/17/05","z":110,"v":27.56},{"d":"02/17/05","z":120,"v":27.62},{"d":"02/17/05","z":130,"v":27.68},{"d":"02/17/05","z":140,"v":27.735},{"d":"02/17/05","z":150,"v":27.79},{"d":"02/17/05","z":160,"v":27.825},{"d":"02/17/05","z":170,"v":27.845},{"d":"02/17/05","z":185,"v":27.856},{"d":"02/17/05","z":200,"v":27.862},{"d":"02/17/05","z":220,"v":27.872},{"d":"02/17/05","z":245,"v":27.885},{"d":"02/17/05","z":275,"v":27.897},{"d":"02/17/05","z":310,"v":27.912},{"d":"02/17/05","z":350,"v":27.928},{"d":"02/17/05","z":400,"v":27.942},{"d":"02/17/05","z":450,"v":27.955},{"d":"02/17/05","z":500,"v":27.966},{"d":"02/17/05","z":550,"v":27.975},{"d":"02/17/05","z":600,"v":27.983},{"d":"02/17/05","z":650,"v":27.99},{"d":"02/17/05","z":700,"v":27.994},
{"d":"02/18/05","z":100,"v":27.5},{"d":"02/18/05","z":110,"v":27.555},{"d":"02/18/05","z":120,"v":27.612},{"d":"02/18/05","z":130,"v":27.668},{"d":"02/18/05","z":140,"v":27.722},{"d":"02/18/05","z":150,"v":27.775},{"d":"02/18/05","z":160,"v":27.815},{"d":"02/18/05","z":170,"v":27.84},{"d":"02/18/05","z":180,"v":27.856},{"d":"02/18/05","z":192,"v":27.862},{"d":"02/18/05","z":205,"v":27.872},{"d":"02/18/05","z":220,"v":27.868},{"d":"02/18/05","z":235,"v":27.885},{"d":"02/18/05","z":250,"v":27.892},{"d":"02/18/05","z":265,"v":27.885},{"d":"02/18/05","z":280,"v":27.9},{"d":"02/18/05","z":310,"v":27.913},{"d":"02/18/05","z":350,"v":27.929},{"d":"02/18/05","z":400,"v":27.944},{"d":"02/18/05","z":450,"v":27.956},{"d":"02/18/05","z":500,"v":27.967},{"d":"02/18/05","z":550,"v":27.976},{"d":"02/18/05","z":600,"v":27.984},{"d":"02/18/05","z":650,"v":27.991},{"d":"02/18/05","z":700,"v":27.996},
{"d":"02/19/05","z":100,"v":27.5},{"d":"02/19/05","z":110,"v":27.56},{"d":"02/19/05","z":120,"v":27.62},{"d":"02/19/05","z":130,"v":27.678},{"d":"02/19/05","z":140,"v":27.735},{"d":"02/19/05","z":150,"v":27.788},{"d":"02/19/05","z":160,"v":27.825},{"d":"02/19/05","z":170,"v":27.846},{"d":"02/19/05","z":185,"v":27.857},{"d":"02/19/05","z":200,"v":27.863},{"d":"02/19/05","z":220,"v":27.872},{"d":"02/19/05","z":245,"v":27.886},{"d":"02/19/05","z":275,"v":27.898},{"d":"02/19/05","z":310,"v":27.912},{"d":"02/19/05","z":350,"v":27.928},{"d":"02/19/05","z":400,"v":27.943},{"d":"02/19/05","z":450,"v":27.956},{"d":"02/19/05","z":500,"v":27.967},{"d":"02/19/05","z":550,"v":27.976},{"d":"02/19/05","z":600,"v":27.984},{"d":"02/19/05","z":650,"v":27.991},{"d":"02/19/05","z":700,"v":27.995}
],
"Zm": [
{"d":"02/13/05","k":"a","z":177.6,"v":-1.017},{"d":"02/13/05","k":"a","z":188.6,"v":-0.953},{"d":"02/13/05","k":"a","z":216.2,"v":-0.901},{"d":"02/13/05","k":"a","z":242.4,"v":-0.888},{"d":"02/13/05","k":"a","z":253.4,"v":-0.642},{"d":"02/13/05","k":"a","z":263.1,"v":-0.384},{"d":"02/13/05","k":"a","z":271.3,"v":-0.319},{"d":"02/13/05","k":"a","z":290.6,"v":-0.254},{"d":"02/13/05","k":"a","z":301.6,"v":-0.125},{"d":"02/13/05","k":"a","z":318.1,"v":0.134},
{"d":"02/14/05","k":"a","z":174.8,"v":-0.953},{"d":"02/14/05","k":"a","z":184.5,"v":-0.862},{"d":"02/14/05","k":"a","z":229.9,"v":-0.836},{"d":"02/14/05","k":"a","z":242.4,"v":-0.603},{"d":"02/14/05","k":"a","z":250.6,"v":-0.345},{"d":"02/14/05","k":"a","z":267.2,"v":-0.306},{"d":"02/14/05","k":"a","z":290.6,"v":-0.125},{"d":"02/14/05","k":"a","z":298.9,"v":-0.086},{"d":"02/14/05","k":"a","z":312.6,"v":0.173},
{"d":"02/14/05","k":"b","z":538.6,"v":2.217},{"d":"02/14/05","k":"b","z":548.3,"v":1.88},{"d":"02/14/05","k":"b","z":567.6,"v":1.777},{"d":"02/14/05","k":"b","z":586.9,"v":1.673},{"d":"02/14/05","k":"b","z":600.6,"v":1.596},{"d":"02/14/05","k":"b","z":614.4,"v":1.492},{"d":"02/14/05","k":"b","z":628.2,"v":1.285},{"d":"02/14/05","k":"b","z":651.6,"v":1.117},{"d":"02/14/05","k":"b","z":670.9,"v":1.04},
{"d":"02/13/05","k":"b","z":553.8,"v":2.346},{"d":"02/13/05","k":"b","z":564.8,"v":2.01},{"d":"02/13/05","k":"b","z":586.9,"v":1.842},{"d":"02/13/05","k":"b","z":597.9,"v":1.7},{"d":"02/13/05","k":"b","z":610.3,"v":1.622},{"d":"02/13/05","k":"b","z":619.9,"v":1.532},{"d":"02/13/05","k":"b","z":633.7,"v":1.285},{"d":"02/13/05","k":"b","z":657.1,"v":1.104},{"d":"02/13/05","k":"b","z":677.8,"v":1.04}
],
"Cs": [{"g":"a","v":1.98,"z":188.6},{"g":"b","v":0.386,"z":431}],
"Cb": [{"g":"a","v":-0.4,"z":244},{"g":"b","v":1.557,"z":600.7}],
"Lb": [{"t":"(a)","v":-0.537,"z":184.6},{"t":"(a)","v":2.048,"z":166.5},{"t":"(b)","v":0.263,"z":409},{"t":"(b)","v":1.142,"z":549.6}]
},
"hconcat": [
{
"width": 309, "height": 435,
"encoding": {
 "x": {"field": "v", "type": "quantitative", "scale": {"domain": [-1.5, 2.5], "nice": false, "zero": false},
  "axis": {"orient": "top", "values": [-1.5,-1,-0.5,0,0.5,1,1.5,2,2.5], "labelExpr": "datum.value % 1 === 0 ? '' + datum.value : ''", "tickSize": {"condition": {"test": "datum.value % 1 === 0", "value": 10}, "value": 6}, "title": "Temperature, ᵒC", "titleFontSize": 24, "labelFontSize": 17, "labelPadding": 2, "titlePadding": 8}},
 "y": {"field": "z", "type": "quantitative", "scale": {"domain": [100, 700], "reverse": true, "nice": false, "zero": false},
  "axis": {"values": [100,120,140,160,180,200,220,240,260,280,300,320,340,360,380,400,420,440,460,480,500,520,540,560,580,600,620,640,660,680,700], "labelExpr": "datum.value % 100 === 0 ? '' + datum.value : ''", "tickSize": {"condition": {"test": "datum.value % 100 === 0", "value": 12}, "value": 7}, "title": "Depth, dbar", "titleFontSize": 22, "labelFontSize": 16, "labelPadding": 2, "titlePadding": 10}}
},
"layer": [
 {"data": {"name": "T"}, "mark": {"type": "line", "strokeWidth": 2},
  "encoding": {"color": {"field": "d", "type": "nominal", "scale": {"domain": ["02/09/05","02/10/05","02/11/05","02/12/05","02/13/05","02/14/05","02/15/05","02/16/05","02/17/05","02/18/05","02/19/05"], "range": ["#2b3a8f","#111111","#3cae49","#b068b0","#e42a2a","#72c6cc","#f2e831","#f07534","#8c8c8c","#2e7d5b","#7b3a96"]}, "legend": null}, "order": {"field": "z", "type": "quantitative"}}},
 {"data": {"name": "Cs"}, "mark": {"type": "point", "shape": "circle", "size": 6400, "filled": true, "opacity": 1, "fillOpacity": 0.6, "stroke": "#222", "strokeOpacity": 1, "strokeWidth": 1.5, "strokeDash": [6, 4]},
  "encoding": {"fill": {"field": "g", "type": "nominal", "scale": {"domain": ["a","b"], "range": ["#f4bca6","#9fd4be"]}, "legend": null}}},
 {"data": {"name": "Cb"}, "mark": {"type": "point", "shape": "circle", "size": 19900, "filled": true, "opacity": 1, "fillOpacity": 1, "stroke": "#222", "strokeOpacity": 1, "strokeWidth": 1.5, "strokeDash": [6, 4]},
  "encoding": {"fill": {"field": "g", "type": "nominal", "scale": {"domain": ["a","b"], "range": ["#f4bca6","#9fd4be"]}, "legend": null}}},
 {"data": {"name": "Zm"}, "mark": {"type": "line", "strokeWidth": 2.5},
  "encoding": {"color": {"field": "d", "type": "nominal", "scale": {"domain": ["02/09/05","02/10/05","02/11/05","02/12/05","02/13/05","02/14/05","02/15/05","02/16/05","02/17/05","02/18/05","02/19/05"], "range": ["#2b3a8f","#111111","#3cae49","#b068b0","#e42a2a","#72c6cc","#f2e831","#f07534","#8c8c8c","#2e7d5b","#7b3a96"]}, "legend": null}, "detail": {"field": "k"}, "order": {"field": "z", "type": "quantitative"}}},
 {"data": {"name": "Lb"}, "mark": {"type": "text", "fontSize": 19, "font": "DejaVu Sans", "color": "#222", "align": "center", "baseline": "middle"},
  "encoding": {"text": {"field": "t"}}}
]
},
{
"width": 351, "height": 435,
"data": {"name": "S"},
"mark": {"type": "line", "strokeWidth": 2},
"encoding": {
 "x": {"field": "v", "type": "quantitative", "scale": {"domain": [34.4, 35], "nice": false, "zero": false},
  "axis": {"orient": "top", "values": [34.4,34.5,34.6,34.7,34.8,34.9,35], "labelExpr": "indexof([34.4,34.6,34.8,35], datum.value) >= 0 ? '' + datum.value : ''", "tickSize": {"condition": {"test": "indexof([34.4,34.6,34.8,35], datum.value) >= 0", "value": 10}, "value": 6}, "title": "Salinity", "titleFontSize": 23, "labelFontSize": 17, "labelPadding": 2, "titlePadding": 8}},
 "y": {"field": "z", "type": "quantitative", "scale": {"domain": [100, 700], "reverse": true, "nice": false, "zero": false},
  "axis": {"values": [100,120,140,160,180,200,220,240,260,280,300,320,340,360,380,400,420,440,460,480,500,520,540,560,580,600,620,640,660,680,700], "labels": false, "title": null, "tickSize": {"condition": {"test": "datum.value % 100 === 0", "value": 12}, "value": 7}}},
 "color": {"field": "d", "type": "nominal", "scale": {"domain": ["02/09/05","02/10/05","02/11/05","02/12/05","02/13/05","02/14/05","02/15/05","02/16/05","02/17/05","02/18/05","02/19/05"], "range": ["#2b3a8f","#111111","#3cae49","#b068b0","#e42a2a","#72c6cc","#f2e831","#f07534","#8c8c8c","#2e7d5b","#7b3a96"]},
  "legend": {"orient": "none", "legendX": 77, "legendY": 202, "title": null, "symbolType": "M-6,0H6", "symbolSize": 169, "symbolStrokeWidth": 2, "labelFontSize": 19, "labelFont": "DejaVu Sans", "labelColor": "#222", "rowPadding": 0, "labelOffset": 39, "padding": 0}},
 "order": {"field": "z", "type": "quantitative"}
}
},
{
"width": 349, "height": 435,
"data": {"name": "P"},
"mark": {"type": "line", "strokeWidth": 2},
"encoding": {
 "x": {"field": "v", "type": "quantitative", "scale": {"domain": [27.5, 28], "nice": false, "zero": false},
  "axis": {"orient": "top", "values": [27.5,27.55,27.6,27.65,27.7,27.75,27.8,27.85,27.9,27.95,28], "labelExpr": "indexof([27.5,27.6,27.7,27.8,27.9,28], datum.value) >= 0 ? '' + datum.value : ''", "tickSize": {"condition": {"test": "indexof([27.5,27.6,27.7,27.8,27.9,28], datum.value) >= 0", "value": 10}, "value": 6}, "title": "Potential density, kg/m³", "titleFontSize": 23, "labelFontSize": 17, "labelPadding": 2, "titlePadding": 8}},
 "y": {"field": "z", "type": "quantitative", "scale": {"domain": [100, 700], "reverse": true, "nice": false, "zero": false},
  "axis": {"values": [100,120,140,160,180,200,220,240,260,280,300,320,340,360,380,400,420,440,460,480,500,520,540,560,580,600,620,640,660,680,700], "labels": false, "title": null, "tickSize": {"condition": {"test": "datum.value % 100 === 0", "value": 12}, "value": 7}}},
 "color": {"field": "d", "type": "nominal", "scale": {"domain": ["02/09/05","02/10/05","02/11/05","02/12/05","02/13/05","02/14/05","02/15/05","02/16/05","02/17/05","02/18/05","02/19/05"], "range": ["#2b3a8f","#111111","#3cae49","#b068b0","#e42a2a","#72c6cc","#f2e831","#f07534","#8c8c8c","#2e7d5b","#7b3a96"]}, "legend": null},
 "order": {"field": "z", "type": "quantitative"}
}
}
]
}
